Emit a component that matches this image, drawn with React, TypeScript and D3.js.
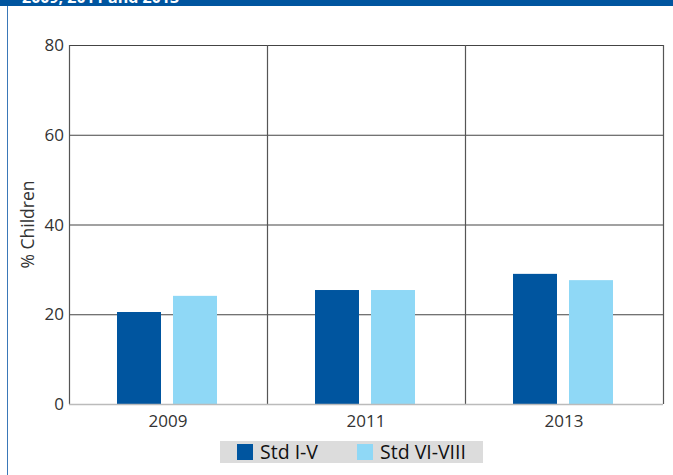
import React from "react";
import * as d3 from "d3";

const years = ["2009", "2011", "2013"];
const seriesNames = ["Std I-V", "Std VI-VIII"];
const stdIV = [20.5, 25.4, 29.0];
const stdVIVIII = [24.1, 25.4, 27.6];
const yTicks = [0, 20, 40, 60, 80];

const colors = ["#00559f", "#8fd8f6"];
const font = "'Open Sans', 'Noto Sans', sans-serif";

export default function App() {
  const width = 673;
  const height = 475;
  const margin = { top: 45, right: 10, bottom: 71, left: 69 };

  const x = d3
    .scaleBand()
    .domain(years)
    .range([margin.left, width - margin.right]);

  const y = d3
    .scaleLinear()
    .domain([0, 80])
    .range([height - margin.bottom, margin.top]);

  // two bars per year, 44px wide with a 12px gap
  const inner = d3
    .scaleBand()
    .domain(seriesNames)
    .range([x.bandwidth() / 2 - 51, x.bandwidth() / 2 + 49])
    .paddingInner(12 / 56);

  const values = [stdIV, stdVIVIII];
  const bottom = y(0);

  return (
    <svg
      width={width}
      height={height}
      style={{ position: "absolute", left: 0, top: 0, background: "#fff" }}
    >
      {/* header strip, title mostly cropped off the top */}
      <rect x={0} y={0} width={width} height={6} fill="#00559f" />
      <text x={22} y={3} fill="#fff" fontFamily={font} fontWeight="bold" fontSize={16}>
        2009, 2011 and 2013
      </text>
      <line x1={7.5} x2={7.5} y1={6} y2={height} stroke="#3a78b8" strokeWidth={1} />

      {/* horizontal gridlines */}
      {yTicks
        .filter((t) => t > 0)
        .map((t) => (
          <line
            key={t}
            x1={margin.left}
            x2={width - margin.right}
            y1={y(t) + 0.5}
            y2={y(t) + 0.5}
            stroke="#444"
            strokeWidth={1.2}
          />
        ))}

      {/* vertical separators */}
      {[...years.map((d) => x(d)!), width - margin.right].map((v, i) => (
        <line
          key={i}
          x1={v + 0.5}
          x2={v + 0.5}
          y1={margin.top}
          y2={bottom}
          stroke="#555"
          strokeWidth={1.2}
        />
      ))}

      {/* bars */}
      {years.map((yr, i) => (
        <g key={yr} transform={`translate(${x(yr)},0)`}>
          {seriesNames.map((s, j) => (
            <rect
              key={s}
              x={inner(s)}
              y={y(values[j][i])}
              width={inner.bandwidth()}
              height={bottom - y(values[j][i])}
              fill={colors[j]}
            />
          ))}
        </g>
      ))}

      {/* baseline */}
      <line
        x1={margin.left}
        x2={width - margin.right}
        y1={bottom + 0.5}
        y2={bottom + 0.5}
        stroke="#bbb"
        strokeWidth={1.5}
      />

      {/* y tick labels */}
      {yTicks.map((t) => (
        <text
          key={t}
          x={margin.left - 5}
          y={y(t)}
          dy="0.36em"
          textAnchor="end"
          fontFamily={font}
          fontSize={17}
          fill="#333"
        >
          {t}
        </text>
      ))}

      {/* x labels */}
      {years.map((yr) => (
        <text
          key={yr}
          x={x(yr)! + x.bandwidth() / 2}
          y={bottom + 23}
          textAnchor="middle"
          fontFamily={font}
          fontSize={17}
          fill="#333"
        >
          {yr}
        </text>
      ))}

      {/* y axis title */}
      <text
        transform={`translate(34,${(margin.top + bottom) / 2}) rotate(-90)`}
        textAnchor="middle"
        fontFamily={font}
        fontSize={17.5}
        fill="#333"
      >
        % Children
      </text>

      {/* legend */}
      <rect x={220} y={441} width={263} height={22} fill="#dcdcdc" />
      {seriesNames.map((s, j) => (
        <g key={s} transform={`translate(${237 + j * 120},444)`}>
          <rect width={16} height={16} fill={colors[j]} />
          <text x={23} y={8} dy="0.36em" fontFamily={font} fontSize={19.5} fill="#111">
            {s}
          </text>
        </g>
      ))}
    </svg>
  );
}
